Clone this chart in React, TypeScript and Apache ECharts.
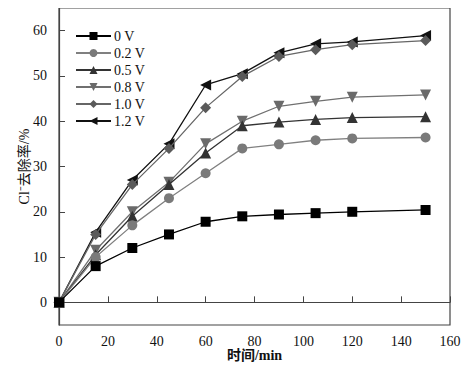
import React, { useEffect, useRef } from "react";
import * as echarts from "echarts";

const times = [0, 15, 30, 45, 60, 75, 90, 105, 120, 150];
const seriesNames = ["0 V", "0.2 V", "0.5 V", "0.8 V", "1.0 V", "1.2 V"];
const v0 = [0, 8, 12, 15, 17.8, 19, 19.4, 19.7, 20, 20.4];
const v02 = [0, 10, 17, 23, 28.5, 34, 34.9, 35.8, 36.2, 36.4];
const v05 = [0, 10.5, 19, 26, 33, 39, 39.8, 40.4, 40.8, 41];
const v08 = [0, 11.5, 20, 26.5, 35, 40, 43.3, 44.4, 45.3, 45.8];
const v10 = [0, 15, 26, 34, 43, 49.9, 54.3, 55.8, 56.9, 57.8];
const v12 = [0, 15.5, 27, 35, 48, 50.5, 55.1, 57.1, 57.5, 58.9];
const allValues = [v0, v02, v05, v08, v10, v12];
const yTicks = [0, 10, 20, 30, 40, 50, 60];

const colors = ["#000000", "#7a7a7a", "#333333", "#6a6a6a", "#5a5a5a", "#111111"];
const lineColors = ["#000000", "#808080", "#333333", "#707070", "#666666", "#111111"];
const symbols = ["rect", "circle", "triangle", "triangle", "diamond", "triangle"];
const rotates = [0, 0, 0, 180, 0, 90];
const sizes = [10, 10, 11, 11, 11, 11];

export default function App() {
  const ref = useRef<HTMLDivElement>(null);
  useEffect(() => {
    const chart = echarts.init(ref.current!, null, { renderer: "svg" });
    const font = "'Liberation Serif', 'Times New Roman', serif";
    const cjkFont = "'Liberation Serif', 'Noto Sans CJK SC', serif";
    chart.setOption({
      animation: false,
      backgroundColor: "#ffffff",
      textStyle: { fontFamily: font },
      grid: {
        left: 51, right: 15, top: 0, bottom: 39, show: true,
        borderColor: "#444", borderWidth: 1.2, containLabel: false, outerBoundsMode: "none",
      },
      legend: {
        orient: "vertical",
        left: 62,
        top: 15,
        itemWidth: 35,
        itemHeight: 10,
        itemGap: 1,
        textStyle: { fontFamily: font, fontSize: 14, lineHeight: 16, color: "#111", padding: [0, 0, 0, -2] },
        data: seriesNames,
      },
      xAxis: {
        type: "value",
        min: 0,
        max: 160,
        interval: 20,
        name: "时间/min",
        nameLocation: "middle",
        nameGap: 23,
        nameMoveOverlap: false,
        nameTextStyle: { fontFamily: cjkFont, fontSize: 14, color: "#111", fontWeight: "bold", verticalAlign: "top" },
        axisLine: { lineStyle: { color: "#444", width: 1.2 } },
        axisTick: { inside: true, length: 6, lineStyle: { color: "#444" } },
        axisLabel: { fontSize: 14, color: "#111", margin: 9, fontFamily: font },
        splitLine: { show: false },
      },
      yAxis: {
        type: "value",
        min: -5,
        max: 65,
        name: "Cl⁻去除率/%",
        nameLocation: "middle",
        nameGap: 28,
        nameMoveOverlap: false,
        nameRotate: 90,
        nameTextStyle: { fontFamily: cjkFont, fontSize: 14, color: "#111", verticalAlign: "bottom" },
        axisLine: { lineStyle: { color: "#444", width: 1.2 } },
        axisTick: { inside: true, length: 6, lineStyle: { color: "#444" }, customValues: yTicks },
        axisLabel: { fontSize: 14, color: "#111", margin: 12, fontFamily: font, customValues: yTicks },
        splitLine: { show: false },
      },
      series: seriesNames.map((name, i) => ({
        name,
        type: "line",
        data: times.map((t, j) => [t, allValues[i][j]]),
        symbol: symbols[i],
        symbolRotate: rotates[i],
        symbolSize: sizes[i],
        showAllSymbol: true,
        itemStyle: { color: colors[i], borderWidth: 0 },
        lineStyle: { color: lineColors[i], width: 1.3 },
        z: 10 - i,
      })),
    });
    return () => chart.dispose();
  }, []);
  return <div ref={ref} style={{ width: 457, height: 356 }} />;
}
